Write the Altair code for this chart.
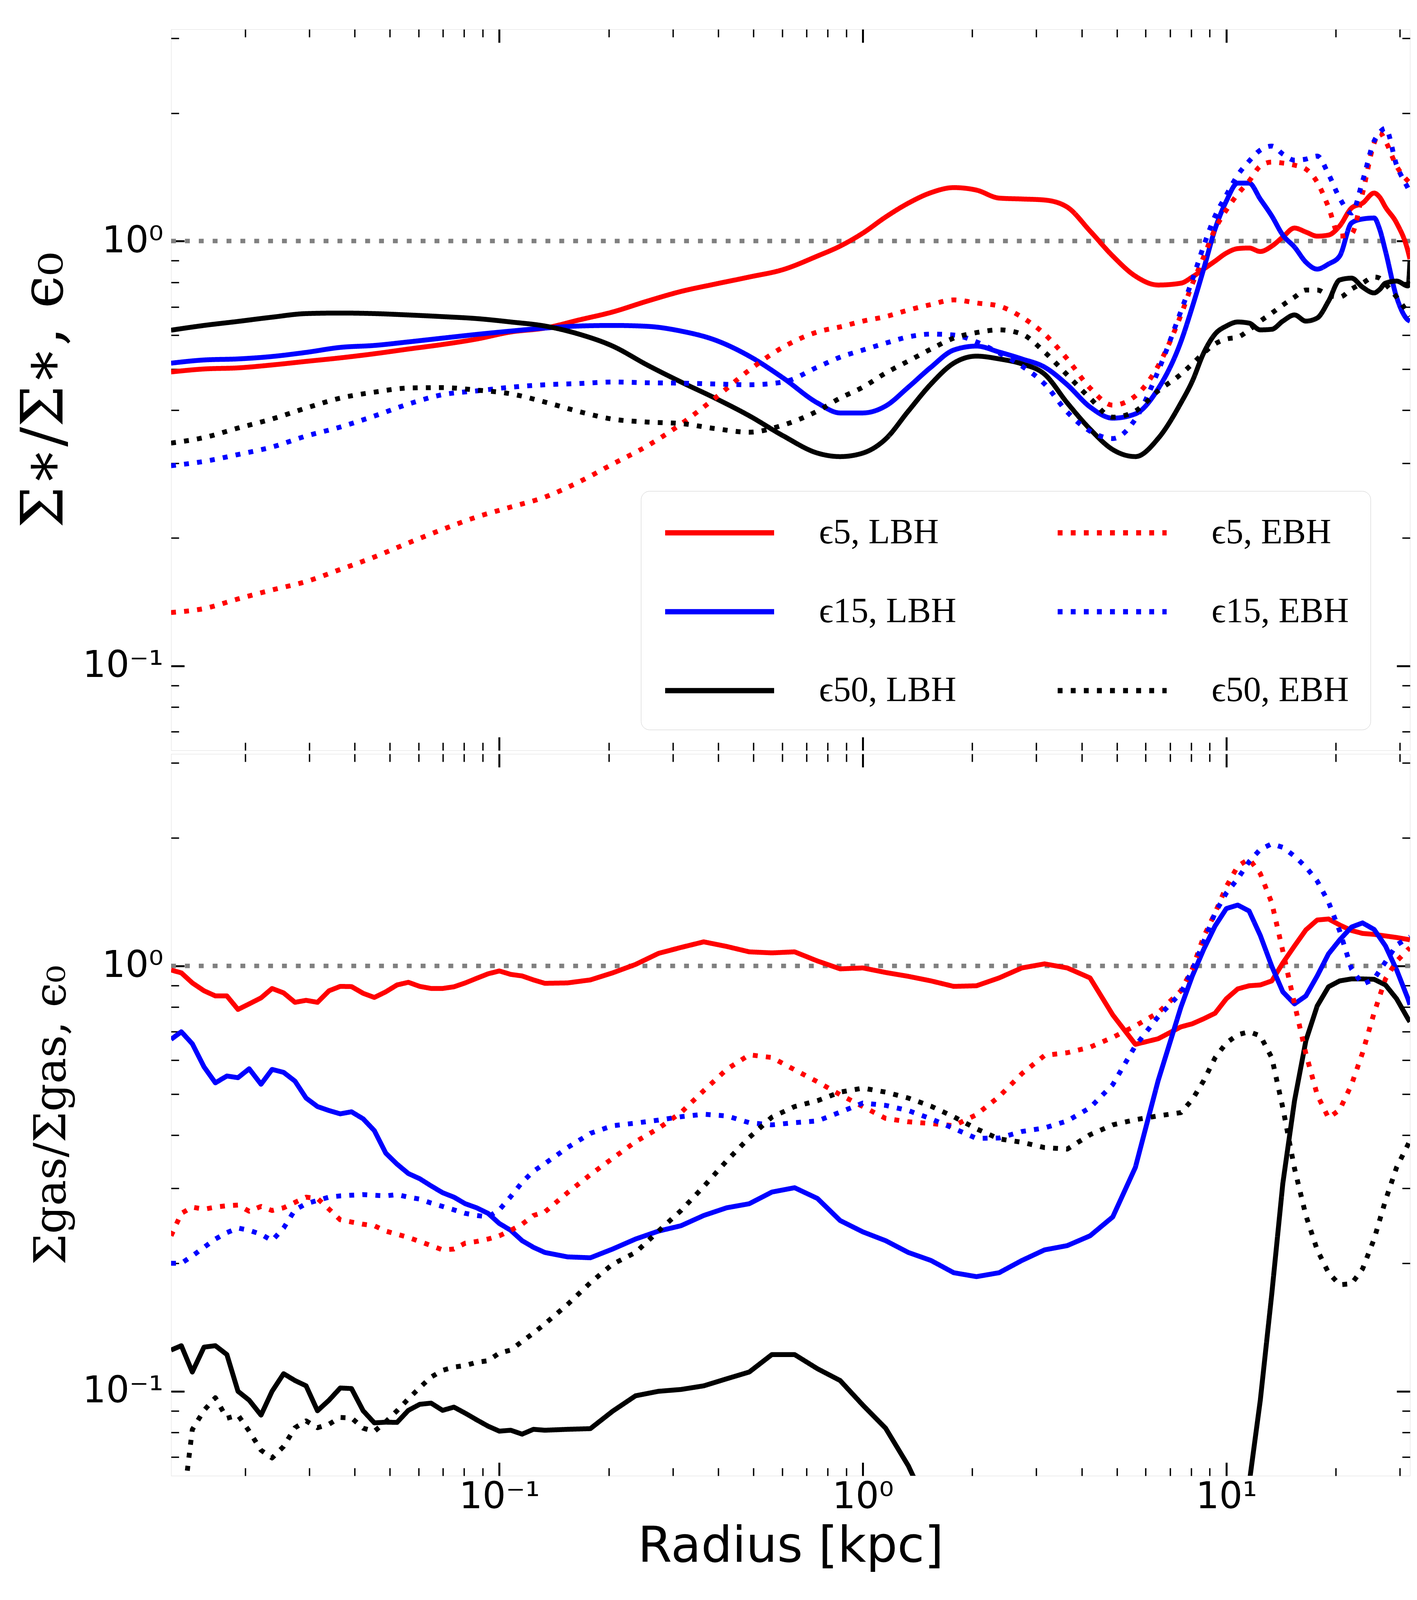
import altair as alt
import pandas as pd

# ------------------------------------------------------------------ data
# legend order (column-major in the legend grid): LBH column, then EBH column
series_names = ["ϵ5, LBH", "ϵ15, LBH", "ϵ50, LBH", "ϵ5, EBH", "ϵ15, EBH", "ϵ50, EBH"]

radius_star = [0.0125, 0.0154, 0.0191, 0.0237, 0.0294, 0.0365, 0.0453, 0.0562, 0.0698, 0.0866,
               0.1075, 0.1334, 0.1655, 0.205, 0.255, 0.316, 0.392, 0.487, 0.604, 0.75, 0.866,
               1.0, 1.155, 1.334, 1.54, 1.778, 2.054, 2.371, 2.738, 3.162, 3.65, 4.217, 4.87,
               5.62, 6.49, 7.5, 8.06, 8.66, 9.31, 10.0, 10.75, 11.55, 12.4, 13.34, 14.3, 15.4,
               16.55, 17.78, 19.1, 20.5, 22.1, 23.7, 25.5, 26.4, 27.4, 29.4, 31.6, 32.0]

star_e5_lbh = [0.492, 0.500, 0.503, 0.511, 0.521, 0.531, 0.543, 0.557, 0.571, 0.588, 0.611, 0.624,
               0.652, 0.681, 0.722, 0.761, 0.792, 0.823, 0.857,
               0.922, 0.973, 1.044, 1.139, 1.228, 1.300, 1.336, 1.318, 1.262, 1.256, 1.249, 1.202,
               1.056, 0.922, 0.827, 0.788, 0.796,
               0.823, 0.859, 0.897, 0.937, 0.960, 0.963, 0.945, 0.973, 1.022, 1.073, 1.050, 1.027,
               1.033, 1.085, 1.196, 1.228, 1.297, 1.269, 1.202, 1.103, 0.947, 0.907]
star_e5_ebh = [0.1336, 0.1365, 0.1438, 0.151, 0.158, 0.1687, 0.1805, 0.1948, 0.2096, 0.2242, 0.2366,
               0.2497, 0.271, 0.2987, 0.3294, 0.371, 0.427, 0.497, 0.563,
               0.611, 0.628, 0.648, 0.664, 0.688, 0.709, 0.727, 0.715, 0.703, 0.662, 0.604, 0.528,
               0.451, 0.411, 0.432, 0.508, 0.670,
               0.792, 0.917, 1.067, 1.183, 1.290, 1.384, 1.501, 1.534, 1.526, 1.509, 1.477, 1.376,
               1.202, 1.027, 1.040, 1.297, 1.700, 1.800, 1.719, 1.501, 1.384, 1.369]
star_e15_lbh = [0.516, 0.525, 0.528, 0.535, 0.547, 0.562, 0.568, 0.579, 0.591, 0.603, 0.614, 0.624,
                0.631, 0.633, 0.630, 0.614, 0.585, 0.536, 0.476,
                0.416, 0.394, 0.394, 0.409, 0.453, 0.505, 0.554, 0.566, 0.548, 0.528, 0.505, 0.459,
                0.407, 0.383, 0.392, 0.449, 0.580,
                0.700, 0.859, 1.067, 1.242, 1.369, 1.369, 1.255, 1.145, 1.033, 0.968, 0.892, 0.859,
                0.883, 0.922, 1.103, 1.127, 1.133, 1.067, 0.947, 0.738, 0.652, 0.648]
star_e15_ebh = [0.296, 0.303, 0.3145, 0.3276, 0.3476, 0.365, 0.3875, 0.4135, 0.435, 0.444, 0.453,
                0.459, 0.462, 0.466, 0.464, 0.463, 0.461, 0.459, 0.466,
                0.505, 0.533, 0.554, 0.575, 0.595, 0.604, 0.601, 0.579, 0.545, 0.508, 0.461, 0.396,
                0.357, 0.343, 0.381, 0.494, 0.684,
                0.810, 0.973, 1.145, 1.283, 1.430, 1.542, 1.637, 1.673, 1.602, 1.550, 1.559, 1.585,
                1.437, 1.262, 1.164, 1.384, 1.719, 1.800, 1.842, 1.509, 1.332, 1.304]
star_e50_lbh = [0.617, 0.633, 0.647, 0.662, 0.675, 0.677, 0.675, 0.670, 0.664, 0.657, 0.645, 0.631,
                0.604, 0.566, 0.511, 0.466, 0.427, 0.388, 0.348,
                0.317, 0.311, 0.317, 0.342, 0.398, 0.461, 0.516, 0.536, 0.528, 0.514, 0.486, 0.416,
                0.361, 0.323, 0.311, 0.343, 0.416,
                0.468, 0.545, 0.604, 0.631, 0.645, 0.641, 0.618, 0.620, 0.648, 0.670, 0.648, 0.659,
                0.722, 0.810, 0.818, 0.779, 0.755, 0.769, 0.796, 0.805, 0.784, 0.897]
star_e50_ebh = [0.3347, 0.3448, 0.363, 0.3813, 0.4046, 0.427, 0.441, 0.451, 0.452, 0.446, 0.437,
                0.418, 0.397, 0.381, 0.375, 0.372, 0.362, 0.355, 0.369,
                0.398, 0.427, 0.453, 0.489, 0.522, 0.557, 0.591, 0.609, 0.618, 0.604, 0.548, 0.484,
                0.427, 0.385, 0.398, 0.444, 0.486,
                0.514, 0.545, 0.573, 0.588, 0.594, 0.618, 0.648, 0.677, 0.707, 0.738, 0.767, 0.767,
                0.746, 0.738, 0.771, 0.796, 0.823, 0.818, 0.792, 0.738, 0.677, 0.666]

radius_gas = [0.0125, 0.01334, 0.0143, 0.0154, 0.01655, 0.0178, 0.0191, 0.0205, 0.0221, 0.0237,
              0.0255, 0.0274, 0.0294, 0.0316, 0.034, 0.0365, 0.0392, 0.0422, 0.0453, 0.0487,
              0.0523, 0.0562, 0.0604, 0.0649, 0.0698, 0.075, 0.0806, 0.0866, 0.0931, 0.1,
              0.1075, 0.1155, 0.1241, 0.1334,
              0.154, 0.178, 0.205, 0.237, 0.274, 0.316, 0.365, 0.422, 0.487, 0.562,
              0.649, 0.75, 0.866, 1.0, 1.155, 1.334, 1.54, 1.778, 2.054, 2.371,
              2.738, 3.162, 3.65, 4.217, 4.87, 5.62, 6.49, 7.5,
              8.06, 8.66, 9.31, 10.0, 10.75, 11.55, 12.4, 13.34, 14.3, 15.4,
              16.55, 17.78, 19.1, 20.5, 22.1, 23.7, 25.5, 27.4, 29.4, 31.6,
              32.0]

gas_e5_lbh = [0.978, 0.963, 0.912, 0.874, 0.850, 0.850, 0.790, 0.814, 0.841, 0.885, 0.864, 0.821,
              0.830, 0.821, 0.874, 0.895, 0.894, 0.862, 0.843, 0.869, 0.902, 0.915, 0.895, 0.885,
              0.885, 0.893, 0.912, 0.935, 0.958, 0.973, 0.955, 0.947, 0.927, 0.910,
              0.912, 0.927, 0.963, 1.008, 1.070, 1.105, 1.139, 1.111, 1.079, 1.073, 1.079, 1.027,
              0.984, 0.989, 0.965, 0.945, 0.922, 0.895, 0.898, 0.937, 0.989, 1.011, 0.989, 0.937,
              0.767, 0.654, 0.674, 0.719,
              0.731, 0.751, 0.774, 0.837, 0.883, 0.898, 0.902, 0.922, 1.016, 1.114, 1.215, 1.282,
              1.289, 1.248, 1.211, 1.192, 1.186, 1.176, 1.166, 1.154,
              1.151]
gas_e5_ebh = [0.232, 0.262, 0.271, 0.268, 0.271, 0.273, 0.274, 0.265, 0.272, 0.266, 0.270, 0.278,
              0.286, 0.284, 0.268, 0.253, 0.250, 0.247, 0.245, 0.238, 0.234, 0.230, 0.225, 0.220,
              0.215, 0.216, 0.223, 0.225, 0.228, 0.232, 0.239, 0.247, 0.259, 0.264,
              0.293, 0.323, 0.353, 0.386, 0.415, 0.452, 0.509, 0.571, 0.618, 0.609, 0.570, 0.534,
              0.498, 0.467, 0.438, 0.430, 0.426, 0.421, 0.447, 0.493, 0.558, 0.616, 0.625, 0.644,
              0.679, 0.723, 0.776, 0.874,
              0.984, 1.170, 1.332, 1.536, 1.716, 1.784, 1.648, 1.405, 1.084, 0.814, 0.622, 0.498,
              0.439, 0.459, 0.526, 0.625, 0.776, 0.932, 1.025, 1.093,
              1.102]
gas_e15_lbh = [0.672, 0.700, 0.656, 0.579, 0.531, 0.551, 0.546, 0.573, 0.527, 0.571, 0.562, 0.536,
               0.489, 0.467, 0.457, 0.449, 0.454, 0.437, 0.410, 0.363, 0.342, 0.325, 0.316, 0.304,
               0.293, 0.286, 0.276, 0.270, 0.262, 0.248, 0.239, 0.226, 0.218, 0.212,
               0.207, 0.206, 0.216, 0.228, 0.238, 0.245, 0.259, 0.270, 0.276, 0.294, 0.301, 0.284,
               0.252, 0.237, 0.226, 0.212, 0.203, 0.190, 0.186, 0.190, 0.203, 0.215, 0.220, 0.232,
               0.257, 0.336, 0.537, 0.800,
               0.947, 1.093, 1.241, 1.364, 1.390, 1.346, 1.179, 0.997, 0.869, 0.814, 0.850, 0.947,
               1.067, 1.151, 1.234, 1.262, 1.218, 1.114, 0.979, 0.837,
               0.810]
gas_e15_ebh = [0.200, 0.200, 0.208, 0.218, 0.228, 0.236, 0.242, 0.239, 0.234, 0.226, 0.242, 0.267,
               0.276, 0.281, 0.286, 0.288, 0.289, 0.290, 0.289, 0.288, 0.290, 0.286, 0.283, 0.277,
               0.272, 0.267, 0.262, 0.259, 0.257, 0.267, 0.287, 0.310, 0.329, 0.343,
               0.374, 0.404, 0.421, 0.427, 0.434, 0.442, 0.448, 0.444, 0.428, 0.423, 0.428, 0.432,
               0.453, 0.476, 0.470, 0.457, 0.437, 0.415, 0.393, 0.394, 0.408, 0.416, 0.432, 0.464,
               0.526, 0.649, 0.759, 0.864,
               0.978, 1.139, 1.332, 1.484, 1.603, 1.758, 1.879, 1.936, 1.900, 1.811, 1.708, 1.583,
               1.413, 1.208, 0.984, 0.905, 0.932, 1.022, 1.120, 1.163,
               1.170]
gas_e50_lbh = [0.125, 0.128, 0.111, 0.127, 0.128, 0.122, 0.100, 0.0953, 0.0879, 0.100, 0.110, 0.106,
               0.103, 0.090, 0.0953, 0.1018, 0.1015, 0.090, 0.0843, 0.0846, 0.0845, 0.0902, 0.0932,
               0.0938, 0.0902, 0.0918, 0.0888, 0.0857, 0.0828, 0.0806, 0.081, 0.0793, 0.0814, 0.081,
               0.0814, 0.0817, 0.0898, 0.0976, 0.100, 0.101, 0.103, 0.107, 0.111, 0.122, 0.122, 0.113,
               0.106, 0.0928, 0.0819, 0.0668, 0.0514, 0.040, 0.035, 0.035, 0.035, 0.035, 0.035, 0.035,
               0.035, 0.035, 0.035, 0.035,
               0.035, 0.035, 0.035, 0.035, 0.038, 0.0605, 0.0953, 0.170, 0.308, 0.482, 0.667, 0.805,
               0.893, 0.922, 0.932, 0.932, 0.930, 0.902, 0.837, 0.751,
               0.739]
gas_e50_ebh = [0.030, 0.0498, 0.0813, 0.0902, 0.0966, 0.0864, 0.0879, 0.0806, 0.0727, 0.0697, 0.0742,
               0.0821, 0.0852, 0.0821, 0.0837, 0.0868, 0.0866, 0.0819, 0.0805, 0.0848, 0.090, 0.096,
               0.102, 0.108, 0.112, 0.114, 0.115, 0.117, 0.118, 0.123, 0.125, 0.131, 0.137, 0.144,
               0.160, 0.180, 0.199, 0.212, 0.238, 0.266, 0.303, 0.348, 0.395, 0.441, 0.467, 0.482,
               0.505, 0.516, 0.505, 0.489, 0.468, 0.442, 0.414, 0.392, 0.385, 0.374, 0.371, 0.401,
               0.423, 0.435, 0.444, 0.452,
               0.485, 0.537, 0.608, 0.659, 0.689, 0.700, 0.685, 0.608, 0.464, 0.334, 0.259, 0.215,
               0.190, 0.178, 0.179, 0.194, 0.228, 0.281, 0.336, 0.380,
               0.390]

reference_level = [1.0]

x_major = [0.1, 1, 10]
x_minor = [0.02, 0.03, 0.04, 0.05, 0.06, 0.07, 0.08, 0.09,
           0.2, 0.3, 0.4, 0.5, 0.6, 0.7, 0.8, 0.9,
           2, 3, 4, 5, 6, 7, 8, 9, 20, 30]
y_major = [0.1, 1]
y_minor = [0.07, 0.08, 0.09, 0.2, 0.3, 0.4, 0.5, 0.6, 0.7, 0.8, 0.9, 2, 3]

# ------------------------------------------------------------------ tables
def long_table(radius, columns):
    rows = []
    for name, vals in zip(series_names, columns):
        assert len(vals) == len(radius), (name, len(vals), len(radius))
        for r, v in zip(radius, vals):
            rows.append({"radius": r, "value": v, "series": name})
    return pd.DataFrame(rows)

star_df = long_table(radius_star, [star_e5_lbh, star_e15_lbh, star_e50_lbh,
                                   star_e5_ebh, star_e15_ebh, star_e50_ebh])
gas_df = long_table(radius_gas, [gas_e5_lbh, gas_e15_lbh, gas_e50_lbh,
                                 gas_e5_ebh, gas_e15_ebh, gas_e50_ebh])
ref_df = pd.DataFrame({"level": reference_level})

# ------------------------------------------------------------------ styling
X_DOMAIN = [0.0125, 32.0]
Y_DOMAIN = [0.0633, 3.15]
PLOT_W = 3172
TOP_H = 1846
BOT_H = 1848
LINE_W = 12.5
DOT = [12.5, 21]
COLORS = ["#ff0000", "#0000ff", "#000000", "#ff0000", "#0000ff", "#000000"]
DASHES = [[1, 0], [1, 0], [1, 0], DOT, DOT, DOT]

MAJ_LEN, MIN_LEN = 34, 20
MAJ_W, MIN_W = 5, 3.5
TICK_FONT = "DejaVu Sans"
TICK_SIZE = 94

x_label_expr = "datum.value < 0.5 ? '10⁻¹' : (datum.value < 5 ? '10⁰' : '10¹')"
y_label_expr = "datum.value < 0.5 ? '10⁻¹' : '10⁰'"


def tick_axis(orient, values, length, width, labels=False, label_expr=None,
              title=None, title_kw=None, label_pad=0):
    kw = dict(orient=orient, values=values, tickSize=length, offset=-length,
              tickWidth=width, tickColor="black", domain=False, grid=False,
              labels=labels, title=title, minExtent=0)
    if labels:
        kw.update(labelExpr=label_expr, labelFont=TICK_FONT, labelFontSize=TICK_SIZE,
                  labelColor="black", labelPadding=label_pad, labelOverlap=False,
                  labelFlush=False, labelLimit=600)
    if title_kw:
        kw.update(title_kw)
    return alt.Axis(**kw)


def panel(df, height, y_title, y_title_size, show_x_labels, legend, interp):
    xs = alt.Scale(type="log", domain=X_DOMAIN, nice=False)
    ys = alt.Scale(type="log", domain=Y_DOMAIN, nice=False)

    y_title_kw = dict(titleFont="DejaVu Serif", titleFontSize=y_title_size,
                      titleFontWeight="normal", titleColor="black", titlePadding=82)
    if show_x_labels:
        x_axis_main = tick_axis("bottom", x_major, MAJ_LEN, MAJ_W, labels=True,
                                label_expr=x_label_expr, title="Radius [kpc]",
                                label_pad=8,
                                title_kw=dict(titleFont="DejaVu Sans", titleFontSize=126,
                                              titleFontWeight="normal", titleColor="black",
                                              titlePadding=18))
    else:
        x_axis_main = tick_axis("bottom", x_major, MAJ_LEN, MAJ_W)

    y_axis_main = tick_axis("left", y_major, MAJ_LEN, MAJ_W, labels=True,
                            label_expr=y_label_expr, title=y_title, title_kw=y_title_kw,
                            label_pad=20)

    color_scale = alt.Scale(domain=series_names, range=COLORS)
    dash_scale = alt.Scale(domain=series_names, range=DASHES)

    ref = alt.Chart(ref_df).mark_rule(
        color="#808080", strokeWidth=11.5, strokeDash=[12.5, 23], strokeCap="butt"
    ).encode(y=alt.Y("level:Q", scale=ys, axis=None))

    lines = alt.Chart(df).mark_line(
        clip=True, strokeWidth=LINE_W, strokeCap="butt", strokeJoin="round",
        interpolate=interp
    ).encode(
        x=alt.X("radius:Q", scale=xs, axis=x_axis_main),
        y=alt.Y("value:Q", scale=ys, axis=y_axis_main),
        color=alt.Color("series:N", scale=color_scale, legend=legend),
        strokeDash=alt.StrokeDash("series:N", scale=dash_scale, legend=legend),
    )

    def ghost(xax, yax):
        return alt.Chart(df).mark_point(opacity=0, clip=True).encode(
            x=alt.X("radius:Q", scale=xs, axis=xax),
            y=alt.Y("value:Q", scale=ys, axis=yax),
        )

    g1 = ghost(tick_axis("bottom", x_minor, MIN_LEN, MIN_W),
               tick_axis("left", y_minor, MIN_LEN, MIN_W))
    g2 = ghost(tick_axis("top", x_major, MAJ_LEN, MAJ_W),
               tick_axis("right", y_major, MAJ_LEN, MAJ_W))
    g3 = ghost(tick_axis("top", x_minor, MIN_LEN, MIN_W),
               tick_axis("right", y_minor, MIN_LEN, MIN_W))

    return alt.layer(ref, lines, g1, g2, g3).resolve_axis(
        x="independent", y="independent"
    ).properties(width=PLOT_W, height=height)


top_legend = alt.Legend(
    title=None, orient="none", legendX=1203, legendY=1182, columns=2,
    symbolType="M-1,0H5.2", symbolSize=8100, symbolStrokeWidth=13.5,
    labelFont="Liberation Serif, DejaVu Serif", labelFontSize=90, labelColor="black",
    labelOffset=297, labelLimit=0, columnPadding=232, rowPadding=105, padding=55,
    fillColor="rgba(255,255,255,0.8)", strokeColor="#cccccc", cornerRadius=22,
)

top = panel(star_df, TOP_H, "Σ∗/Σ∗, ϵ₀", 150, False, top_legend, "monotone")
bottom = panel(gas_df, BOT_H, "Σgas/Σgas, ϵ₀", 112, True, None, "linear")

chart = alt.vconcat(top, bottom, spacing=3).resolve_scale(
    color="independent", strokeDash="independent"
).properties(
    padding={"left": 30, "top": 64, "right": 0, "bottom": 34}
).configure_view(
    stroke="black", strokeWidth=3.5
).configure_legend(
    strokeWidth=4
).configure(background="white")

chart.save("out.html", embed_options={"renderer": "svg", "actions": False})
